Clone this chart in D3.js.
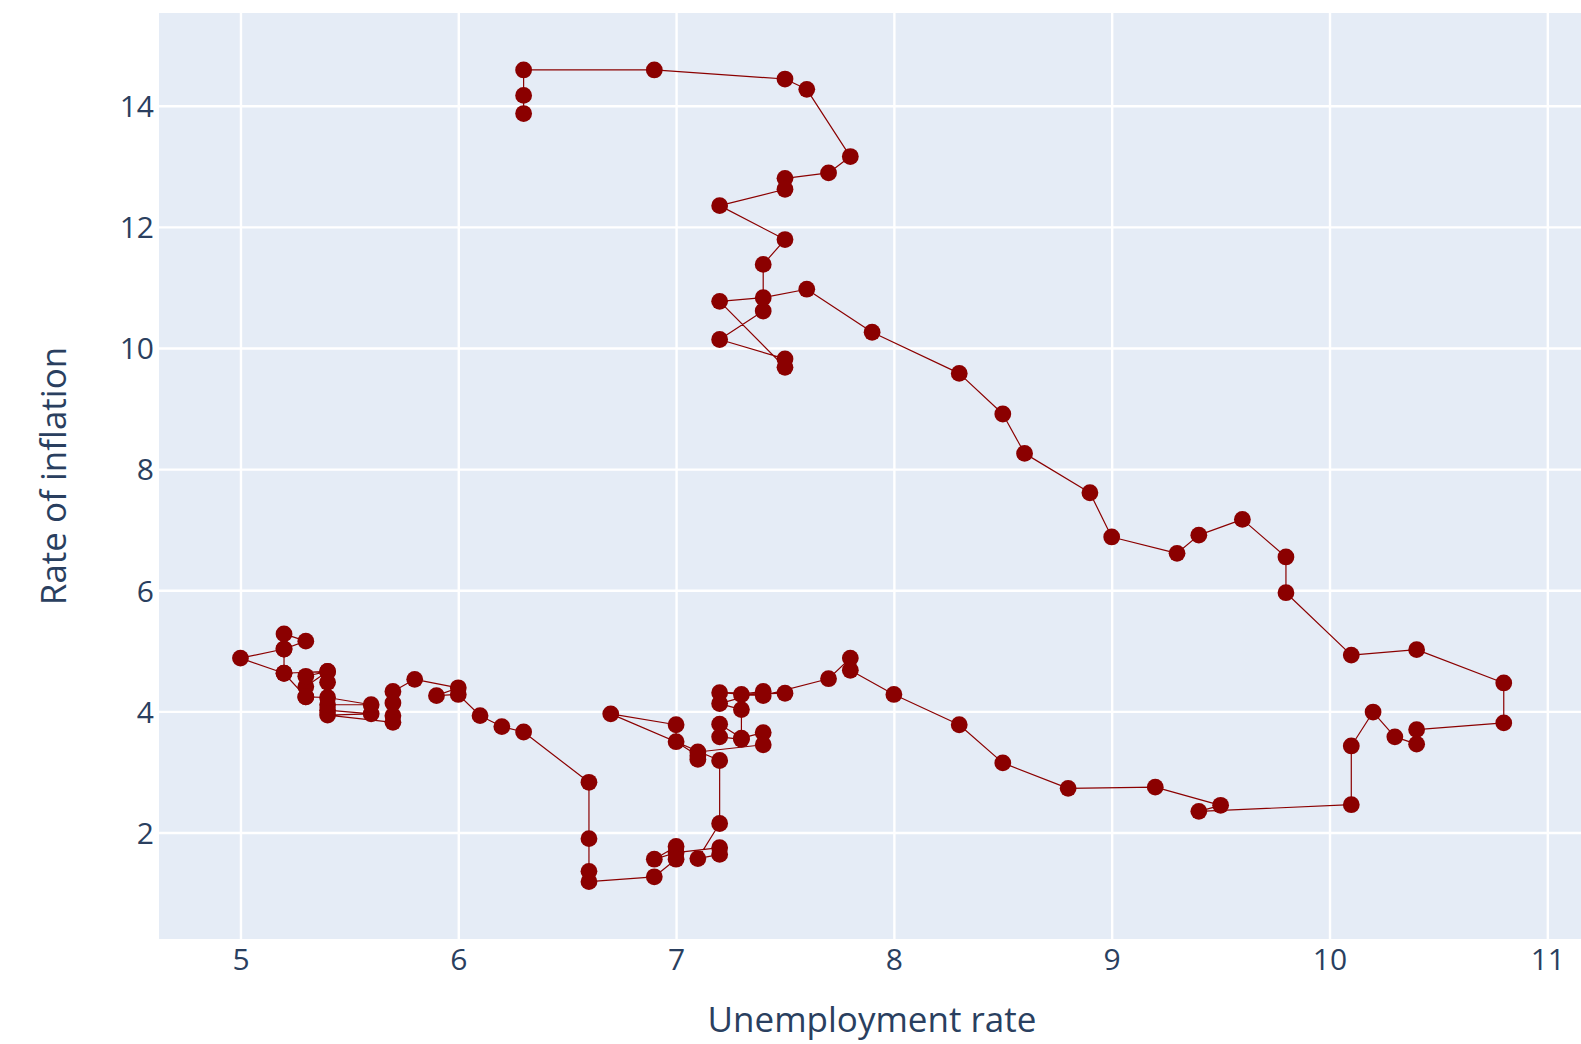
<!DOCTYPE html>
<html>
<head>
<meta charset="utf-8">
<script src="https://cdn.jsdelivr.net/npm/d3@7"></script>
<style>
  html, body { margin: 0; padding: 0; background: #ffffff; }
  svg { display: block; }
  text { font-family: "Open Sans", verdana, arial, sans-serif; fill: #2a3f5f; }
</style>
</head>
<body>
<svg id="chart" width="1581" height="1044"></svg>
<script>
// Monthly unemployment rate vs. inflation rate, plotted as a connected path
const unemployment = [
  6.3, 6.3, 6.3, 6.9, 7.5, 7.6, 7.8, 7.7, 7.5, 7.5, 7.2,
  7.5, 7.4, 7.4, 7.2, 7.5, 7.5, 7.2, 7.4, 7.6, 7.9, 8.3, 8.5,
  8.6, 8.9, 9.0, 9.3, 9.4, 9.6, 9.8, 9.8, 10.1, 10.4, 10.8, 10.8,
  10.4, 10.4, 10.3, 10.2, 10.1, 10.1, 9.4, 9.5, 9.2, 8.8, 8.5, 8.3,
  8.0, 7.8, 7.8, 7.7, 7.4, 7.2, 7.5, 7.3, 7.4, 7.2, 7.3,
  7.3, 7.2, 7.2, 7.3, 7.4, 7.4, 7.1, 7.1, 7.1, 7.0, 7.0,
  6.7, 7.2, 7.2, 7.1, 7.2, 7.2, 7.0, 6.9, 7.0, 7.0, 6.9, 6.6,
  6.6, 6.6, 6.6, 6.3, 6.2, 6.1, 6.0, 5.9, 6.0, 5.8, 5.7,
  5.7, 5.7, 5.7, 5.4, 5.6, 5.4, 5.4, 5.6, 5.4, 5.3, 5.3,
  5.4, 5.2, 5.0, 5.2, 5.2, 5.3, 5.2, 5.2, 5.3, 5.3, 5.4, 5.4
];
const inflation = [
  13.87, 14.17, 14.59, 14.59, 14.44, 14.27, 13.16, 12.89, 12.80, 12.62, 12.35,
  11.79, 11.38, 10.61, 10.14, 9.82, 9.68, 10.77, 10.83, 10.97, 10.26, 9.58, 8.91,
  8.26, 7.61, 6.88, 6.61, 6.91, 7.17, 6.55, 5.96, 4.93, 5.02, 4.47, 3.81,
  3.70, 3.46, 3.58, 3.99, 3.43, 2.46, 2.35, 2.45, 2.75, 2.73, 3.15, 3.78,
  4.28, 4.68, 4.88, 4.54, 4.26, 4.31, 4.30, 4.28, 4.33, 4.13, 4.03,
  3.54, 3.58, 3.79, 3.56, 3.65, 3.45, 3.33, 3.21, 3.27, 3.50, 3.78,
  3.96, 3.19, 2.15, 1.57, 1.64, 1.75, 1.67, 1.56, 1.77, 1.56, 1.27, 1.19,
  1.36, 1.90, 2.83, 3.66, 3.75, 3.93, 4.28, 4.26, 4.39, 4.53, 4.33,
  4.14, 3.93, 3.82, 3.94, 3.96, 4.02, 4.11, 4.11, 4.23, 4.24, 4.41,
  4.66, 4.63, 4.88, 5.03, 5.28, 5.16, 5.03, 4.63, 4.24, 4.58, 4.66, 4.48
];
const xTicks = [5, 6, 7, 8, 9, 10, 11];
const yTicks = [2, 4, 6, 8, 10, 12, 14];
const xTitle = "Unemployment rate";
const yTitle = "Rate of inflation";

const points = unemployment.map((u, i) => ({ u, r: inflation[i] }));

const svg = d3.select("#chart");
const plot = { left: 159, top: 13, right: 1585, bottom: 939 };

const x = d3.scaleLinear().domain([4.626, 11.173]).range([plot.left, plot.right]);
const y = d3.scaleLinear().domain([0.243, 15.53]).range([plot.bottom, plot.top]);

// plot background
svg.append("rect")
  .attr("x", plot.left).attr("y", plot.top)
  .attr("width", plot.right - plot.left).attr("height", plot.bottom - plot.top)
  .attr("fill", "#E5ECF6");

// vertical grid + x tick labels
const xAxis = svg.append("g")
  .attr("transform", `translate(0,${plot.bottom})`)
  .call(d3.axisBottom(x).tickValues(xTicks).tickFormat(d3.format("d"))
    .tickSize(-(plot.bottom - plot.top)));
xAxis.select(".domain").remove();
xAxis.selectAll(".tick line").attr("stroke", "#ffffff").attr("stroke-width", 2.4);
xAxis.selectAll(".tick text")
  .attr("y", 31).attr("dy", 0)
  .style("font-size", "30px").style("fill", "#2a3f5f");

// horizontal grid + y tick labels
const yAxis = svg.append("g")
  .attr("transform", `translate(${plot.left},0)`)
  .call(d3.axisLeft(y).tickValues(yTicks).tickFormat(d3.format("d"))
    .tickSize(-(plot.right - plot.left)));
yAxis.select(".domain").remove();
yAxis.selectAll(".tick line").attr("stroke", "#ffffff").attr("stroke-width", 2.4);
yAxis.selectAll(".tick text")
  .attr("x", -5).attr("dy", "0.36em")
  .style("font-size", "30px").style("fill", "#2a3f5f");

svg.selectAll("g").attr("font-family", null).attr("font-size", null);

// connecting path
const line = d3.line().x(d => x(d.u)).y(d => y(d.r));
svg.append("path")
  .datum(points)
  .attr("d", line)
  .attr("fill", "none")
  .attr("stroke", "#8B0000")
  .attr("stroke-width", 1.2)
  .attr("stroke-linejoin", "round");

// markers
svg.append("g")
  .selectAll("circle")
  .data(points)
  .join("circle")
  .attr("cx", d => x(d.u))
  .attr("cy", d => y(d.r))
  .attr("r", 8.4)
  .attr("fill", "#8B0000");

// axis titles
svg.append("text")
  .attr("x", 872).attr("y", 1032)
  .attr("text-anchor", "middle")
  .style("font-size", "35px")
  .text(xTitle);

svg.append("text")
  .attr("transform", `translate(66,${(plot.top + plot.bottom) / 2}) rotate(-90)`)
  .attr("text-anchor", "middle")
  .style("font-size", "35px")
  .text(yTitle);
</script>
</body>
</html>
